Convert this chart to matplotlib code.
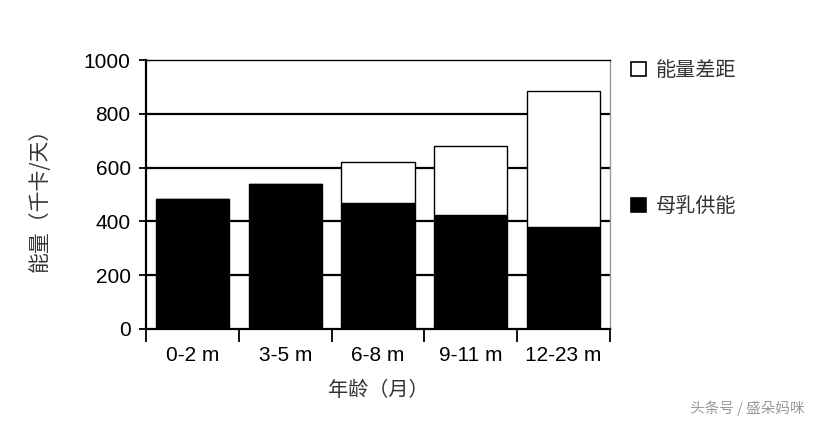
import matplotlib
matplotlib.use("Agg")
import matplotlib.pyplot as plt
from matplotlib.patches import Patch
import numpy as np

categories = ["0-2 m", "3-5 m", "6-8 m", "9-11 m", "12-23 m"]
breastmilk = [484, 540, 467, 422, 381]
total_need = [484, 540, 619, 681, 885]
gap = [t - b for t, b in zip(total_need, breastmilk)]
yticks = [0, 200, 400, 600, 800, 1000]

cjk = ["Noto Sans CJK SC", "DejaVu Sans"]
num = ["Liberation Sans", "DejaVu Sans"]

fig = plt.figure(figsize=(8.13, 4.22), dpi=100)
ax = fig.add_axes([146/813, 1-329/422, (610-146)/813, (329-60)/422])

x = np.arange(len(categories))
w = 0.79
ax.bar(x, breastmilk, width=w, color="black", edgecolor="black", linewidth=1, zorder=3)
ax.bar(x, gap, bottom=breastmilk, width=w, color="white", edgecolor="black", linewidth=1, zorder=3)

ax.set_xlim(-0.5, len(categories) - 0.5)
ax.set_ylim(0, 1000)
ax.set_yticks(yticks)
ax.set_yticklabels([str(v) for v in yticks], family=num, fontsize=15)
for v in yticks[1:-1]:
    ax.axhline(v, color="black", linewidth=1.6, zorder=1)

ax.set_xticks(x)
ax.set_xticklabels(categories, family=num, fontsize=15)
ax.set_xticks(np.arange(-0.5, len(categories)), minor=True)
ax.tick_params(axis="x", which="major", length=0, pad=12)
ax.tick_params(axis="x", which="minor", length=9, width=1.3, color="black", direction="out")
ax.tick_params(axis="y", length=5, width=1.3, direction="out", pad=6)

for s in ["left", "bottom"]:
    ax.spines[s].set_linewidth(1.6)
    ax.spines[s].set_color("black")
ax.spines["top"].set_linewidth(1.0)
ax.spines["top"].set_color("black")
ax.spines["right"].set_linewidth(1.0)
ax.spines["right"].set_color("#999999")

ax.set_ylabel("能量（千卡/天）", family=cjk, fontsize=15, color="#333333", labelpad=24)
ax.set_xlabel("年龄（月）", family=cjk, fontsize=14.5, color="#333333", labelpad=11)

handles = [Patch(facecolor="white", edgecolor="black", linewidth=1.2),
           Patch(facecolor="black", edgecolor="black", linewidth=1.2)]
fig.legend(handles, ["能量差距", "母乳供能"], loc="upper left",
           bbox_to_anchor=(613/813, 1-42/422), frameon=False,
           prop={"family": cjk, "size": 14.5}, handlelength=0.75, handleheight=0.75,
           handletextpad=0.5, labelspacing=5.7, labelcolor="#333333")

fig.text(805/813, 1-408/422, "头条号 / 盛朵妈咪", family=cjk, fontsize=10.5,
         color="#9a9a9a", ha="right", va="center")

fig.savefig("out.png", dpi=100)
